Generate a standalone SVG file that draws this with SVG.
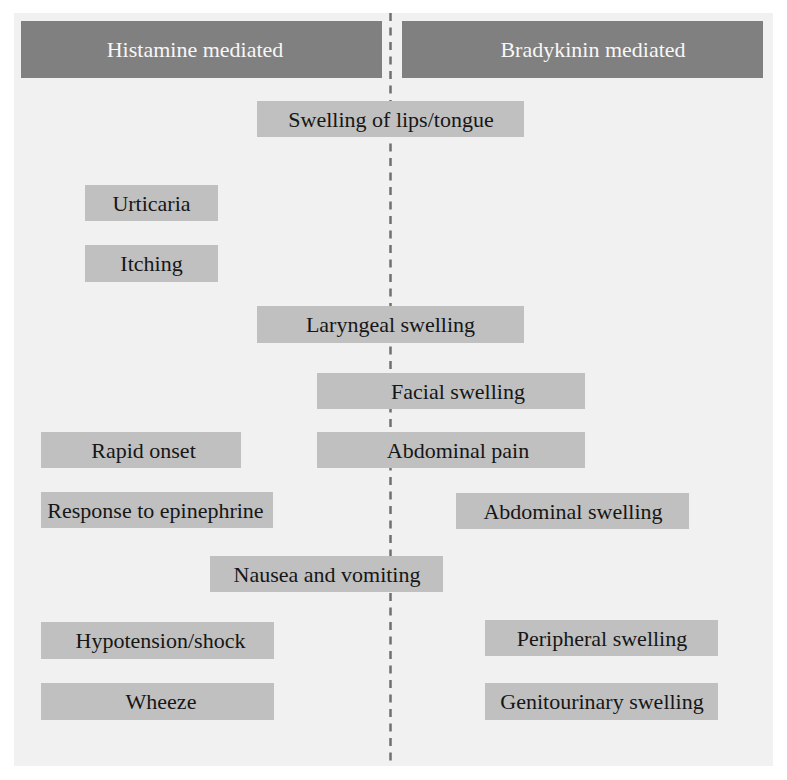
<svg xmlns="http://www.w3.org/2000/svg" width="787" height="780" viewBox="0 0 787 780">
<style>
.box{fill:#c0c0c0}
.hdr{fill:#808080}
.t{font-family:"Liberation Serif","Times New Roman",serif;font-size:22px;fill:#161616;text-anchor:middle}
.ht{font-family:"Liberation Serif","Times New Roman",serif;font-size:22px;fill:#f7f7f7;text-anchor:middle}
</style>
<rect x="0" y="0" width="787" height="780" fill="#ffffff"/>
<rect x="14" y="13" width="759" height="753" fill="#f1f1f1"/>
<g id="connectors">
<line x1="390.5" y1="13" x2="390.5" y2="767" stroke="#707070" stroke-width="2.5" stroke-dasharray="8 6.5"/>
</g>
<g id="header-histamine"><rect class="hdr" x="21" y="21" width="361" height="57"/><text class="ht" x="195" y="57">Histamine mediated</text></g>
<g id="header-bradykinin"><rect class="hdr" x="402" y="21" width="361" height="57"/><text class="ht" x="593" y="57">Bradykinin mediated</text></g>
<g id="lips"><rect class="box" x="257" y="101" width="267" height="36"/><text class="t" x="391" y="126.5">Swelling of lips/tongue</text></g>
<g id="urticaria"><rect class="box" x="85" y="185" width="133" height="36"/><text class="t" x="151.5" y="210.5">Urticaria</text></g>
<g id="itching"><rect class="box" x="85" y="245" width="133" height="37"/><text class="t" x="151.5" y="271">Itching</text></g>
<g id="laryngeal"><rect class="box" x="257" y="306" width="267" height="37"/><text class="t" x="390.5" y="332">Laryngeal swelling</text></g>
<g id="facial"><rect class="box" x="317" y="373" width="268" height="36"/><text class="t" x="458" y="398.5">Facial swelling</text></g>
<g id="rapid"><rect class="box" x="41" y="432" width="200" height="36"/><text class="t" x="143.5" y="457.5">Rapid onset</text></g>
<g id="abdpain"><rect class="box" x="317" y="432" width="268" height="36"/><text class="t" x="458" y="457.5">Abdominal pain</text></g>
<g id="epinephrine"><rect class="box" x="41" y="492" width="232" height="36"/><text class="t" x="155.5" y="517.5">Response to epinephrine</text></g>
<g id="abdswelling"><rect class="box" x="456" y="493" width="233" height="36"/><text class="t" x="573" y="518.5">Abdominal swelling</text></g>
<g id="nausea"><rect class="box" x="210" y="556" width="233" height="36"/><text class="t" x="327" y="581.5">Nausea and vomiting</text></g>
<g id="hypotension"><rect class="box" x="41" y="622" width="233" height="37"/><text class="t" x="160.5" y="648">Hypotension/shock</text></g>
<g id="peripheral"><rect class="box" x="485" y="620" width="233" height="36"/><text class="t" x="602" y="645.5">Peripheral swelling</text></g>
<g id="wheeze"><rect class="box" x="41" y="683" width="233" height="37"/><text class="t" x="161" y="709">Wheeze</text></g>
<g id="genitourinary"><rect class="box" x="485" y="683" width="233" height="37"/><text class="t" x="602" y="709">Genitourinary swelling</text></g>
</svg>
